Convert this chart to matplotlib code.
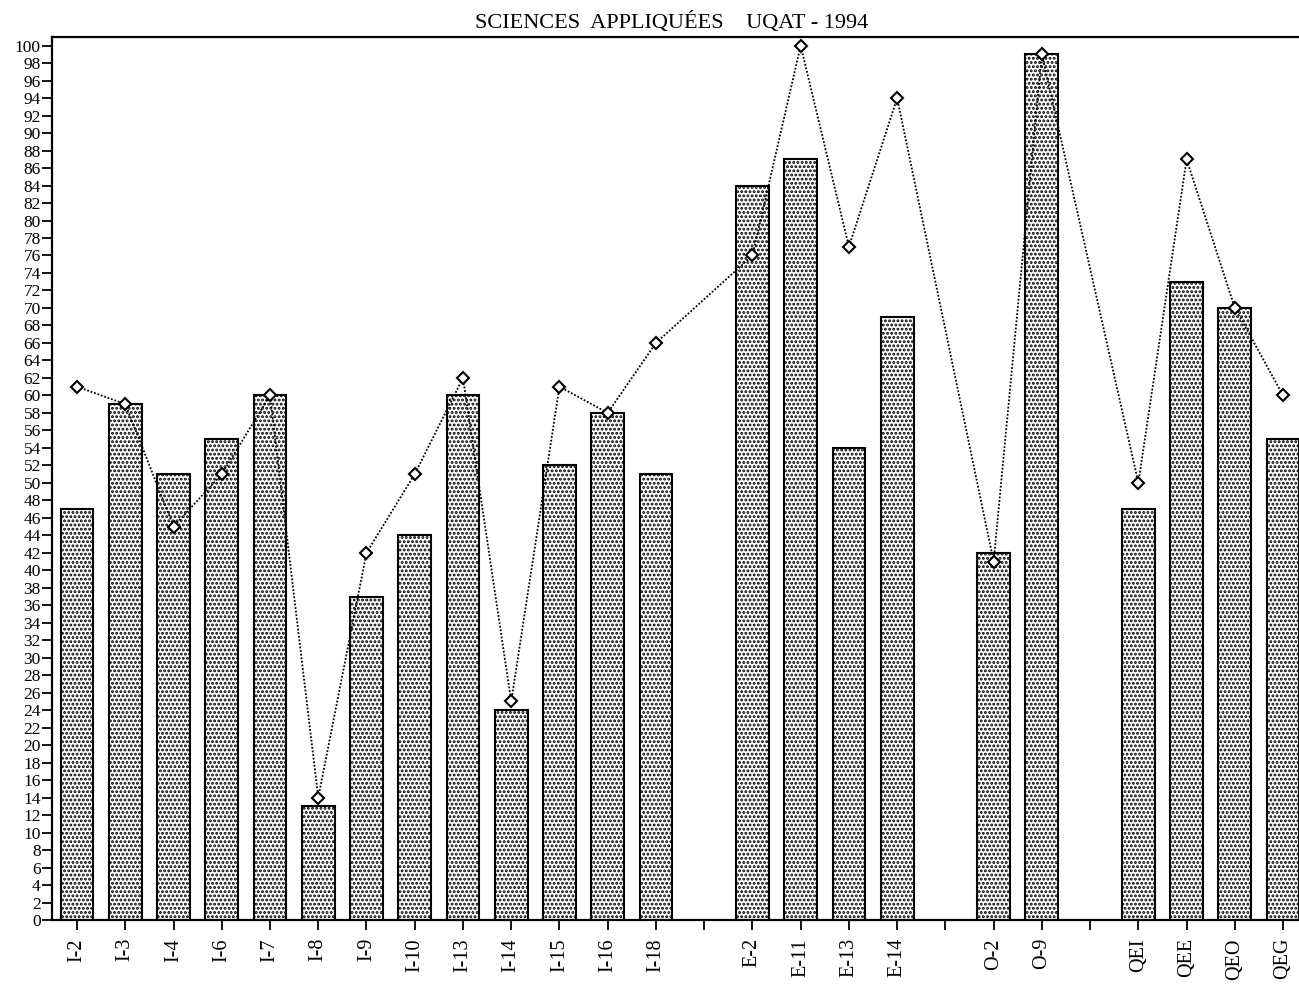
import matplotlib
matplotlib.use("Agg")
import matplotlib.pyplot as plt
import numpy as np

categories = ["I-2", "I-3", "I-4", "I-6", "I-7", "I-8", "I-9", "I-10", "I-13", "I-14",
              "I-15", "I-16", "I-18", "", "E-2", "E-11", "E-13", "E-14", "", "O-2", "O-9",
              "", "QEI", "QEE", "QEO", "QEG"]
bar_values = [47, 59, 51, 55, 60, 13, 37, 44, 60, 24, 52, 58, 51, None,
              84, 87, 54, 69, None, 42, 99, None, 47, 73, 70, 55]
line_values = [61, 59, 45, 51, 60, 14, 42, 51, 62, 25, 61, 58, 66, None,
               76, 100, 77, 94, None, 41, 99, None, 50, 87, 70, 60]
yticks = list(range(0, 101, 2))
title = "SCIENCES  APPLIQUÉES    UQAT - 1994"

plt.rcParams['font.family'] = ['Liberation Serif', 'DejaVu Serif']
plt.rcParams['hatch.linewidth'] = 1.4

fig = plt.figure(figsize=(12.99, 9.84), dpi=100)
ax = fig.add_axes([0.040, 0.065, 0.960, 0.8975])

x = np.arange(len(categories))
bx = [xi for xi, v in zip(x, bar_values) if v is not None]
bv = [v for v in bar_values if v is not None]
lx = [xi for xi, v in zip(x, line_values) if v is not None]
lv = [v for v in line_values if v is not None]

ax.bar(bx, bv, width=0.68, facecolor="white", edgecolor="black", hatch="....",
       linewidth=1.5, zorder=2)
ax.plot(lx, lv, linestyle=(0, (1, 1)), color="black", linewidth=1.3, marker="D",
        markersize=6.5, markerfacecolor="white", markeredgecolor="black",
        markeredgewidth=1.5, zorder=3, clip_on=False)

ax.set_xlim(-0.52, 25.33)
ax.set_ylim(0, 101)
ax.set_yticks(yticks)
ax.set_yticklabels([str(t) for t in yticks], fontsize=12.5)
ax.set_xticks(x)
ax.set_xticklabels(categories, rotation=90, fontsize=14.5)
ax.tick_params(axis="y", direction="out", length=7, width=1.3, pad=1)
ax.tick_params(axis="x", direction="out", length=7, width=1.3, pad=6)
for s in ["left", "top", "bottom"]:
    ax.spines[s].set_linewidth(1.6)
ax.spines["right"].set_visible(False)

fig.text(0.517, 0.966, title, ha="center", va="bottom", fontsize=16)

fig.savefig("out.png", dpi=100)
